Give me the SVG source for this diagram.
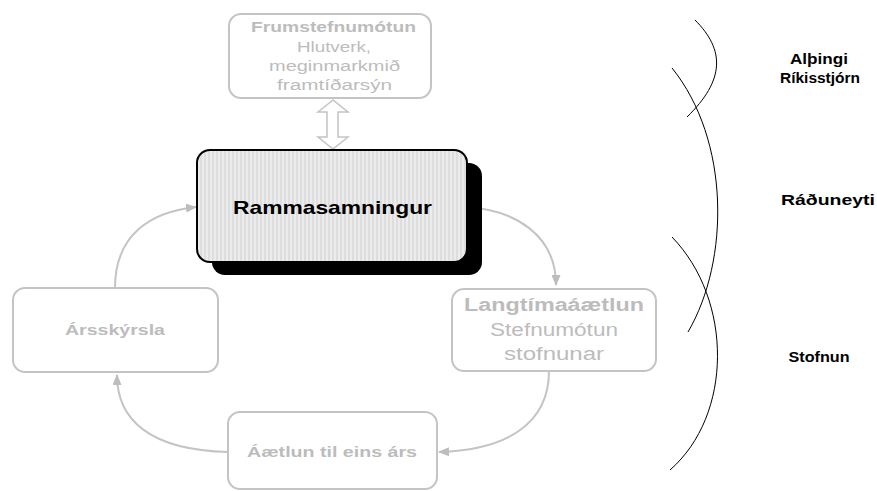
<svg xmlns="http://www.w3.org/2000/svg" width="877" height="491" viewBox="0 0 877 491">
  <defs>
    <pattern id="stripes" patternUnits="userSpaceOnUse" width="4" height="10">
      <rect x="0" y="0" width="4" height="10" fill="#ececec"/>
      <rect x="0" y="0" width="2" height="10" fill="#dedede"/>
    </pattern>
    <marker id="ah" markerUnits="userSpaceOnUse" markerWidth="11" markerHeight="9" refX="10" refY="4.5" orient="auto">
      <path d="M0,0 L11,4.5 L0,9 z" fill="#bdbdbd"/>
    </marker>
  </defs>
  <style>
    .node { fill: #ffffff; stroke: #c4c4c4; stroke-width: 2; }
    .t { font-family: "Liberation Sans", Arial, sans-serif; text-anchor: middle; fill: #bcbcbc; }
    .b { font-weight: bold; }
    .lbl { font-family: "Liberation Sans", Arial, sans-serif; font-weight: bold; text-anchor: middle; fill: #000000; font-size: 14.5px; }
    .conn { fill: none; stroke: #c4c4c4; stroke-width: 2; }
    .arc { fill: none; stroke: #000000; stroke-width: 1; }
  </style>
  <rect width="877" height="491" fill="#ffffff"/>

  <g id="connectors">
    <polygon points="333,100 318,112 327,112 327,137 318,137 333,149 348,137 338,137 338,112 348,112" fill="#ffffff" stroke="#c4c4c4" stroke-width="1.5"/>
    <path class="conn" d="M467,207 C515,210 556,235 556,285" marker-end="url(#ah)"/>
    <path class="conn" d="M549,371 C549,425 505,450 439,452" marker-end="url(#ah)"/>
    <path class="conn" d="M228,452 C150,450 117,420 117,375" marker-end="url(#ah)"/>
    <path class="conn" d="M115,288 C115,235 150,212 196,207" marker-end="url(#ah)"/>
  </g>

  <g id="frumstefnumotun">
    <rect class="node" x="229" y="14" width="202" height="84" rx="12"/>
    <text class="t b" x="333.5" y="32" font-size="15.5" textLength="165" lengthAdjust="spacingAndGlyphs">Frumstefnumótun</text>
    <text class="t" x="334" y="52" font-size="15.5" textLength="74" lengthAdjust="spacingAndGlyphs">Hlutverk,</text>
    <text class="t" x="334.5" y="71" font-size="15.5" textLength="131" lengthAdjust="spacingAndGlyphs">meginmarkmið</text>
    <text class="t" x="334.5" y="90" font-size="15.5" textLength="115" lengthAdjust="spacingAndGlyphs">framtíðarsýn</text>
  </g>

  <g id="rammasamningur">
    <rect x="212" y="163" width="270" height="112" rx="13" fill="#000000"/>
    <rect x="197" y="150" width="270" height="112" rx="13" fill="url(#stripes)" stroke="#000000" stroke-width="2"/>
    <text class="t b" x="332.5" y="214" font-size="18.5" style="fill:#000000" textLength="199" lengthAdjust="spacingAndGlyphs">Rammasamningur</text>
  </g>

  <g id="langtimaaaetlun">
    <rect class="node" x="452" y="289" width="204" height="82" rx="12"/>
    <text class="t b" x="554" y="311" font-size="18" textLength="180" lengthAdjust="spacingAndGlyphs">Langtímaáætlun</text>
    <text class="t" x="554" y="336" font-size="18" textLength="128" lengthAdjust="spacingAndGlyphs">Stefnumótun</text>
    <text class="t" x="554" y="360" font-size="18" textLength="100" lengthAdjust="spacingAndGlyphs">stofnunar</text>
  </g>

  <g id="arsskyrsla">
    <rect class="node" x="13" y="288" width="205" height="84" rx="12"/>
    <text class="t b" x="115" y="335" font-size="15" textLength="100" lengthAdjust="spacingAndGlyphs">Ársskýrsla</text>
  </g>

  <g id="aaetlun">
    <rect class="node" x="228" y="412" width="209" height="77" rx="12"/>
    <text class="t b" x="332" y="457" font-size="15" textLength="170" lengthAdjust="spacingAndGlyphs">Áætlun til eins árs</text>
  </g>

  <g id="levels">
    <path class="arc" d="M695,20 C725,50 725,80 687,117"/>
    <path class="arc" d="M672,68 C730,140 730,260 688,332"/>
    <path class="arc" d="M672,237 C733,300 733,415 670,470"/>
    <text class="lbl" x="819" y="64" textLength="58" lengthAdjust="spacingAndGlyphs">Alþingi</text>
    <text class="lbl" x="820" y="83" textLength="80" lengthAdjust="spacingAndGlyphs">Ríkisstjórn</text>
    <text class="lbl" x="828" y="205" textLength="94" lengthAdjust="spacingAndGlyphs">Ráðuneyti</text>
    <text class="lbl" x="819" y="362" textLength="61" lengthAdjust="spacingAndGlyphs">Stofnun</text>
  </g>
</svg>
